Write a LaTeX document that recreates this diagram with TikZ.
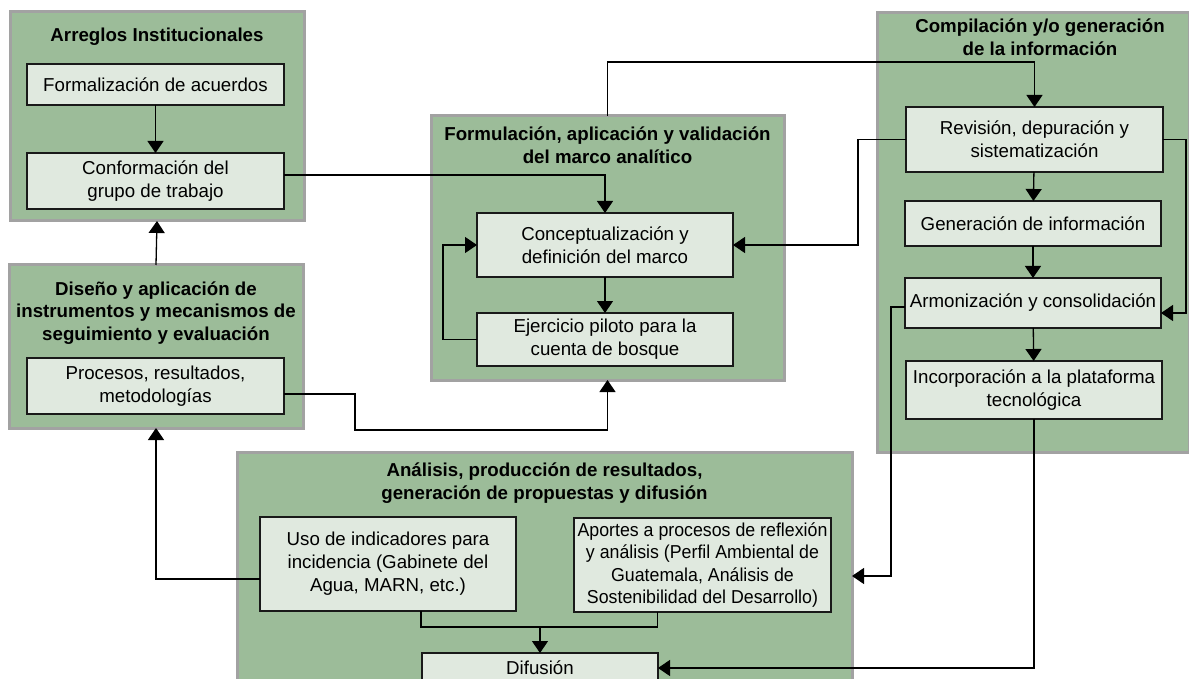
\documentclass[tikz,border=0pt]{standalone}
\usepackage{fontspec}
\setmainfont{Liberation Sans}
\newfontfamily\angosta[FakeStretch=0.95]{Liberation Sans}
\usepackage{xcolor}
\usepackage{tikz}
\usetikzlibrary{
    arrows.meta
}
\definecolor{verdefase}{RGB}{156,188,153}
\definecolor{bordefase}{RGB}{162,162,162}
\definecolor{fondopaso}{RGB}{224,233,223}

\begin{document}
\begin{tikzpicture}[x=1pt,y=-1pt,>={Triangle[width=16pt,length=12pt]},line width=1.3pt,font=\fontsize{18.7}{23}\selectfont]
    \tikzstyle{fase}=[draw=bordefase, fill=verdefase, line width=3pt, inner sep=0pt, outer sep=0pt]
    \tikzstyle{titulo}=[align=center, inner sep=0pt, font=\fontsize{18.7}{22.5}\selectfont\bfseries]
    \tikzstyle{paso}=[draw=black!90, fill=fondopaso, line width=1.3pt, align=center, inner sep=1pt, outer sep=0pt]
    \clip (0,0) rectangle (1189,679);

	\node [fase, minimum width=294pt, minimum height=209pt] (arreglos) at (157,116.5) {};
	\node [fase, minimum width=294pt, minimum height=163pt] (diseno) at (156,346.5) {};
	\node [fase, minimum width=353pt, minimum height=264pt] (formulacion) at (607.5,248) {};
	\node [fase, minimum width=312pt, minimum height=439pt] (compilacion) at (1033,232.5) {};
	\node [fase, minimum width=615pt, minimum height=248pt] (analisis) at (544.5,576) {};

	\node [titulo] (tarreglos) at (157,37) {Arreglos Institucionales};
	\node [titulo] (tdiseno) at (156,313) {Diseño y aplicación de\\ instrumentos y mecanismos de\\ seguimiento y evaluación};
	\node [titulo] (tformulacion) at (607.5,145) {Formulación, aplicación y validación\\ del marco analítico};
	\node [titulo] (tcompilacion) at (1040,37) {Compilación y/o generación\\ de la información};
	\node [titulo] (tanalisis) at (544.5,483) {Análisis, producción de resultados,\\ generación de propuestas y difusión};

	\node [paso, minimum width=257pt, minimum height=41pt] (formalizacion) at (155.5,84.5) {Formalización de acuerdos};
	\node [paso, minimum width=257pt, minimum height=56pt] (conformacion) at (155.5,181) {Conformación del\\ grupo de trabajo};
	\node [paso, minimum width=257pt, minimum height=56pt] (procesos) at (155.5,386) {Procesos, resultados,\\ metodologías};

	\node [paso, minimum width=256pt, minimum height=64pt] (concepto) at (605,245) {Conceptualización y\\ definición del marco};
	\node [paso, minimum width=256pt, minimum height=53pt] (ejercicio) at (605,339.5) {Ejercicio piloto para la\\ cuenta de bosque};

	\node [paso, minimum width=257pt, minimum height=65pt] (revision) at (1034.5,139.5) {Revisión, depuración y\\ sistematización};
	\node [paso, minimum width=256pt, minimum height=45pt] (generacion) at (1033,223.5) {Generación de información};
	\node [paso, minimum width=256pt, minimum height=50pt] (armonizacion) at (1033,303) {Armonización y consolidación};
	\node [paso, minimum width=256pt, minimum height=58pt] (incorporacion) at (1034,390) {Incorporación a la plataforma\\ tecnológica};

	\node [paso, minimum width=256pt, minimum height=94pt] (uso) at (388,564) {Uso de indicadores para\\ incidencia (Gabinete del\\ Agua, MARN, etc.)};
	\node [paso, minimum width=257pt, minimum height=94pt, font=\angosta\fontsize{18.7}{22.5}\selectfont] (aportes) at (702.5,565) {Aportes a procesos de reflexión\\ y análisis (Perfil Ambiental de\\ Guatemala, Análisis de\\ Sostenibilidad del Desarrollo)};
	\node [paso, minimum width=236pt, minimum height=30pt] (difusion) at (540,668) {Difusión};

	\coordinate (desvio) at (355,430);
	\coordinate (junta) at (540,627);

	\draw [->] (formalizacion) -- (conformacion);
	\draw [->] ([yshift=6pt]conformacion.east) -| (concepto.north);
	\draw [->] (diseno.north) -- (arreglos.south);
	\draw [->] ([yshift=-8pt]procesos.east) -| (desvio) -| (formulacion.south);
	\draw [->] ([yshift=-15pt]uso.west) -| (diseno.south);

	\draw [->] (concepto) -- (ejercicio);
	\draw [->] (ejercicio.west) -- ++(-34,0) |- (concepto.west);
	\draw [->] (formulacion.north) -- ++(0,-54) -| (revision.north);
	\draw [->] (revision.west) -- ++(-48,0) |- (concepto.east);

	\draw [->] (revision) -- (generacion);
	\draw [->] (generacion) -- (armonizacion);
	\draw [->] (armonizacion) -- (incorporacion);
	\draw [->] (revision.east) -- ++(23,0) |- ([yshift=-10pt]armonizacion.east);
	\draw [->] ([yshift=-4pt]armonizacion.west) -- ++(-14,0) |- (analisis.east);
	\draw [->] (incorporacion.south) |- (difusion.east);

	\draw ([xshift=33pt]uso.south) |- (junta);
	\draw ([xshift=-45pt]aportes.south) |- (junta);
	\draw [->] (junta) -- (difusion.north);
\end{tikzpicture}
\end{document}
